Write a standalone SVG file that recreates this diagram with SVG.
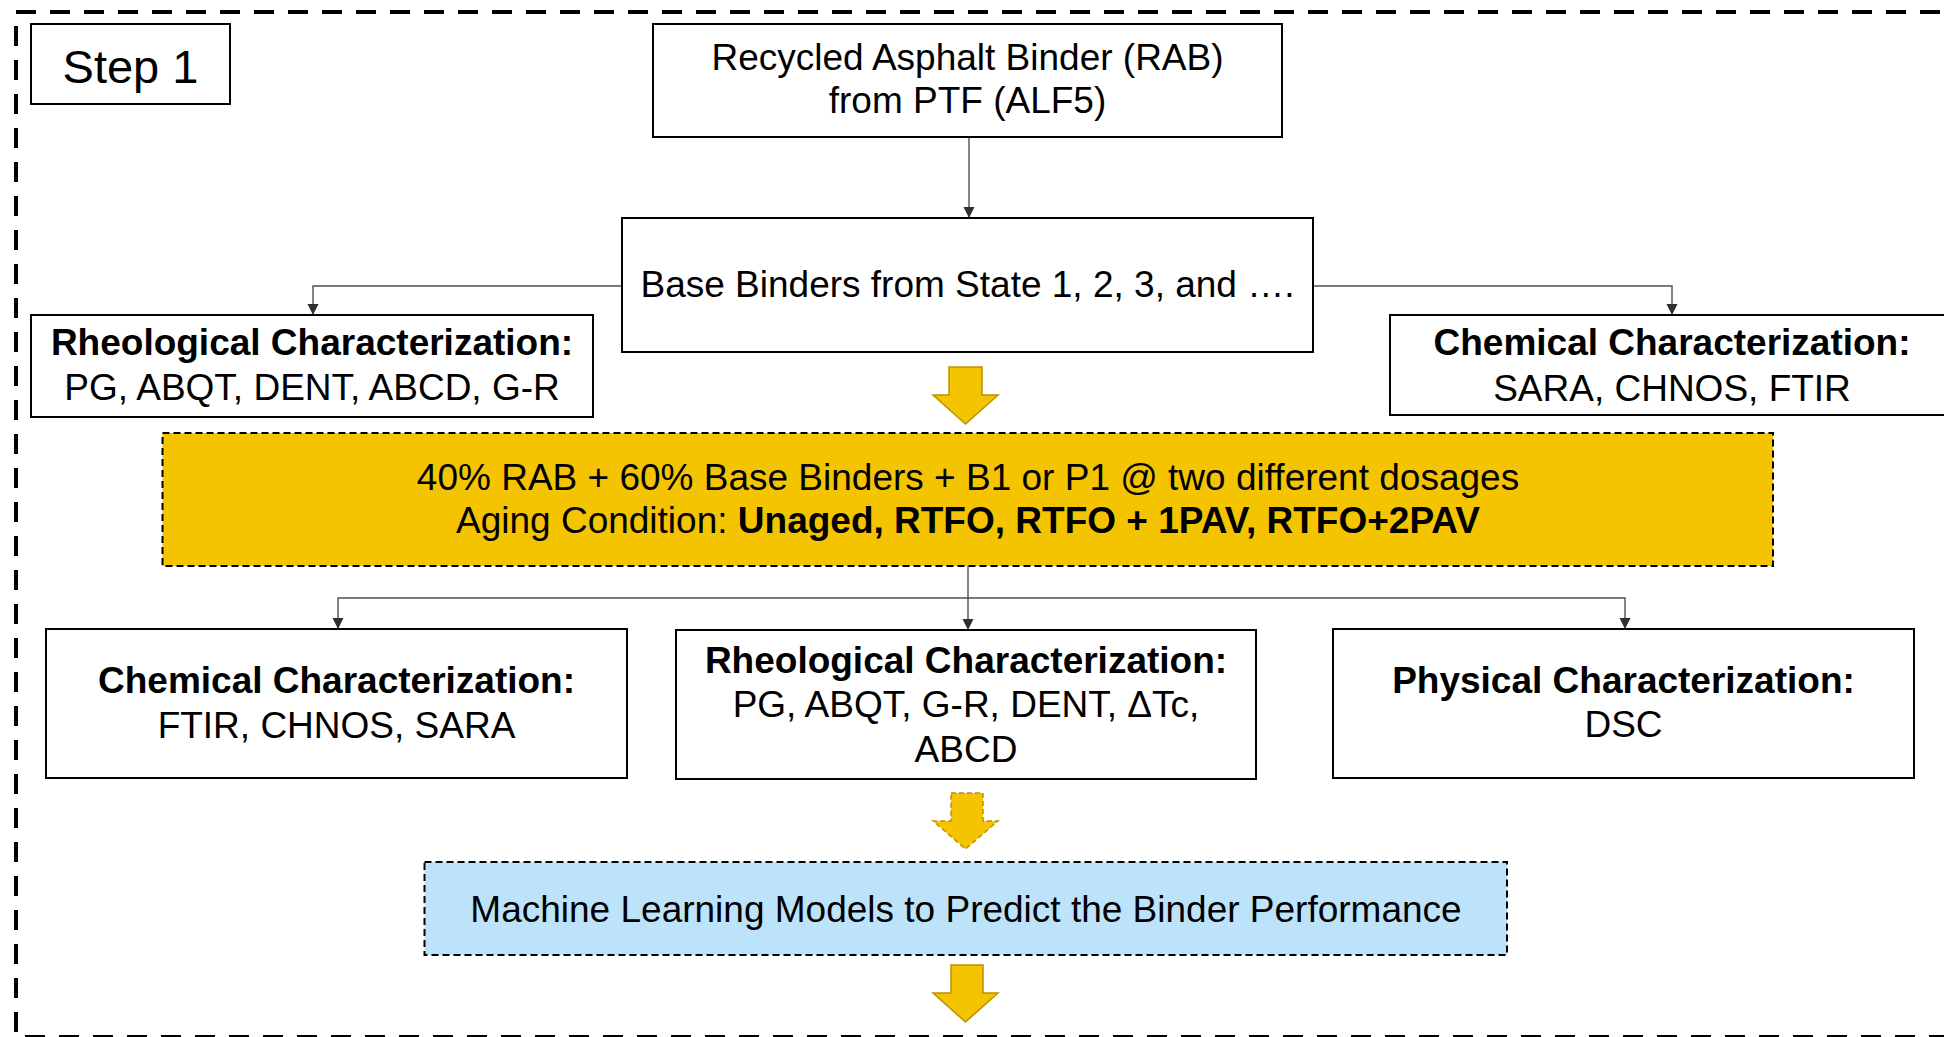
<svg xmlns="http://www.w3.org/2000/svg" width="1944" height="1037" viewBox="0 0 1944 1037">
<defs>
<style>
text{font-family:"Liberation Sans",Arial,sans-serif;font-size:37px;fill:#000;text-anchor:middle}
.b{font-weight:bold}
.box{fill:#fff;stroke:#000;stroke-width:2}
.dbox{stroke:#000;stroke-width:2;stroke-dasharray:7 4}
.conn{fill:none;stroke:#505050;stroke-width:1.4}
.yarrow{fill:#F5C400;stroke:#BF9000;stroke-width:1.5}
</style>
<marker id="ah" markerUnits="userSpaceOnUse" markerWidth="12" markerHeight="12" refX="11" refY="5.5" orient="auto">
<path d="M0,0 L11,5.5 L0,11 Z" fill="#303030"/>
</marker>
</defs>
<rect width="1944" height="1037" fill="#fff"/>
<rect id="frame" x="16" y="12" width="1950" height="1025" fill="none" stroke="#000" stroke-width="4" stroke-dasharray="20 14"/>

<g id="connectors">
<path class="conn" d="M969,137 V218" marker-end="url(#ah)"/>
<path class="conn" d="M622,286 H313 V315" marker-end="url(#ah)"/>
<path class="conn" d="M1313,286 H1672 V315" marker-end="url(#ah)"/>
<path class="conn" d="M968,566 V630" marker-end="url(#ah)"/>
<path class="conn" d="M968,598 H338 V629" marker-end="url(#ah)"/>
<path class="conn" d="M968,598 H1625 V629" marker-end="url(#ah)"/>
</g>

<g id="step1">
<rect class="box" x="31" y="24" width="199" height="80"/>
<text x="130.5" y="83" style="font-size:47px">Step 1</text>
</g>

<g id="rab">
<rect class="box" x="653" y="24" width="629" height="113"/>
<text x="967.5" y="70">Recycled Asphalt Binder (RAB)</text>
<text x="967.5" y="113">from PTF (ALF5)</text>
</g>

<g id="base">
<rect class="box" x="622" y="218" width="691" height="134"/>
<text x="967.5" y="297">Base Binders from State 1, 2, 3, and ….</text>
</g>

<g id="rheo1">
<rect class="box" x="31" y="315" width="562" height="102"/>
<text x="312" y="355" class="b">Rheological Characterization:</text>
<text x="312" y="400">PG, ABQT, DENT, ABCD, G-R</text>
</g>

<g id="chem1">
<rect class="box" x="1390" y="315" width="564" height="100"/>
<text x="1672" y="355" class="b">Chemical Characterization:</text>
<text x="1672" y="401">SARA, CHNOS, FTIR</text>
</g>

<g id="arrow1">
<path class="yarrow" d="M949,367 H982 V395 H998 L965.5,424 L933,395 H949 Z"/>
</g>

<g id="blend">
<rect class="dbox" x="162.5" y="433" width="1610.5" height="133" fill="#F5C400"/>
<text x="968" y="490">40% RAB + 60% Base Binders + B1 or P1 @ two different dosages</text>
<text x="968" y="533">Aging Condition: <tspan class="b">Unaged, RTFO, RTFO + 1PAV, RTFO+2PAV</tspan></text>
</g>

<g id="chem2">
<rect class="box" x="46" y="629" width="581" height="149"/>
<text x="336.5" y="693" class="b">Chemical Characterization:</text>
<text x="336.5" y="738">FTIR, CHNOS, SARA</text>
</g>

<g id="rheo2">
<rect class="box" x="676" y="630" width="580" height="149"/>
<text x="966" y="673" class="b">Rheological Characterization:</text>
<text x="966" y="717">PG, ABQT, G-R, DENT, ΔTc,</text>
<text x="966" y="762">ABCD</text>
</g>

<g id="phys">
<rect class="box" x="1333" y="629" width="581" height="149"/>
<text x="1623.5" y="693" class="b">Physical Characterization:</text>
<text x="1623.5" y="737">DSC</text>
</g>

<g id="arrow2">
<path class="yarrow" d="M951,793 H983 V821 H998 L965.5,849 L933,821 H951 Z" stroke-dasharray="5 3"/>
</g>

<g id="ml">
<rect class="dbox" x="424.5" y="862" width="1082.5" height="93" fill="#BDE3FB"/>
<text x="966" y="922">Machine Learning Models to Predict the Binder Performance</text>
</g>

<g id="arrow3">
<path class="yarrow" d="M951,965 H983 V993 H998 L965.5,1022 L933,993 H951 Z"/>
</g>
</svg>
